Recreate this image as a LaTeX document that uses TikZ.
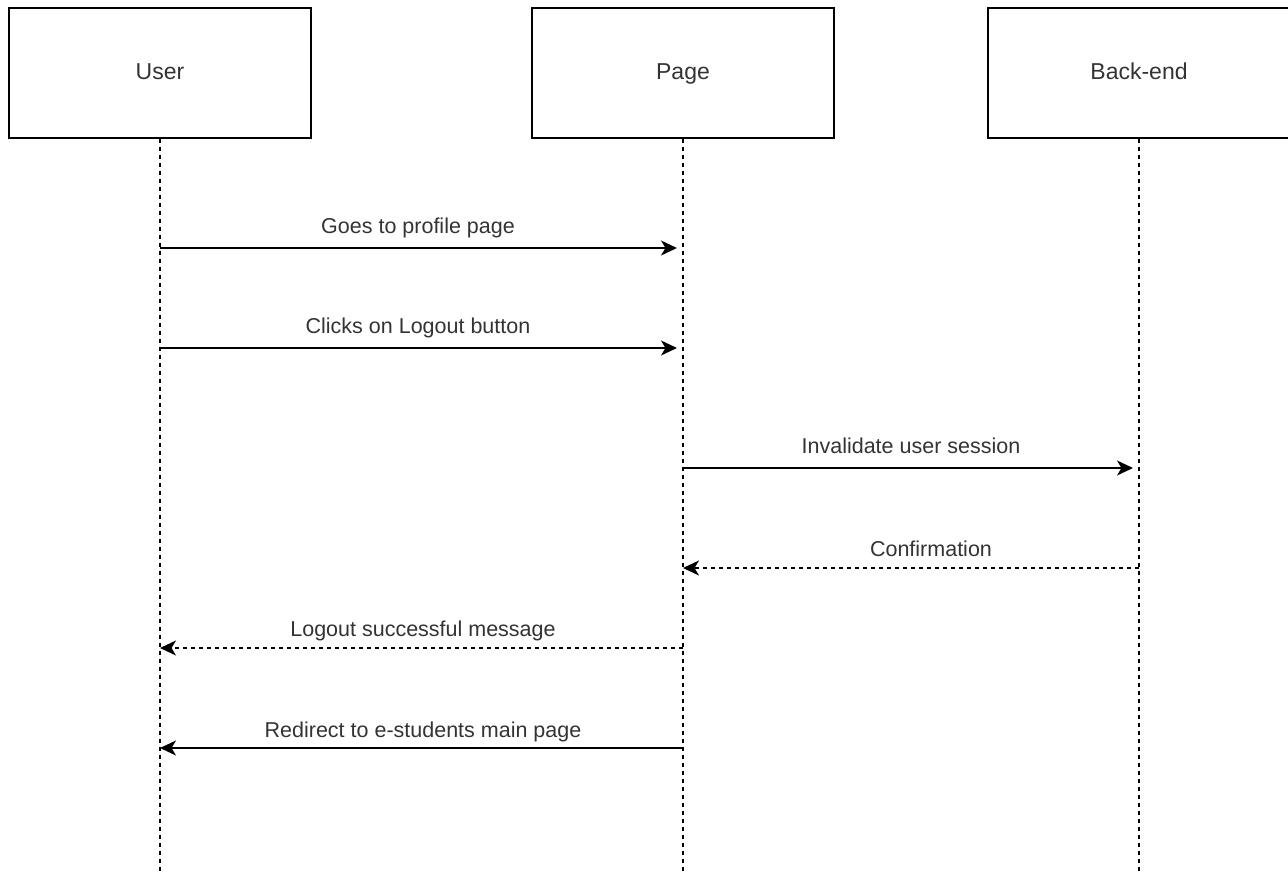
\documentclass[tikz,border=0pt]{standalone}
\usepackage{fontspec}
\setmainfont{Liberation Sans}
\usetikzlibrary{arrows.meta}
\begin{document}
\begin{tikzpicture}[x=1pt,y=-1pt,
  actor/.style={draw=black, line width=1.4pt, minimum width=302pt, minimum height=130pt,
    inner sep=0pt, font=\fontsize{23}{26}\selectfont, text height=16.5pt, text depth=3.5pt,
    text=black!80},
  lifeline/.style={draw=black, line width=1.1pt, dash pattern=on 4pt off 4pt},
  msg/.style={draw=black, line width=1.6pt, -{Stealth[length=16pt,width=15pt,inset=4.5pt]}},
  reply/.style={msg, dash pattern=on 4pt off 4pt},
  lbl/.style={font=\fontsize{21.5}{24}\selectfont, text=black!80, inner sep=0pt, anchor=base}]
\useasboundingbox (0,0) rectangle (1288,873);
% participant boxes (the last one runs past the right edge)
\begin{scope}
\clip (0,0) rectangle (1288,873);
\node[actor] (user) at (160,73) {User};
\node[actor] (page) at (683,73) {Page};
\node[actor] (back) at (1139,73) {Back-end};
\end{scope}
\coordinate (userEnd) at (160,873);
\coordinate (pageEnd) at (683,873);
\coordinate (backEnd) at (1139,873);
\draw[lifeline] (user.south) -- (userEnd);
\draw[lifeline] (page.south) -- (pageEnd);
\draw[lifeline] (back.south) -- (backEnd);
% message anchors on the lifelines
\coordinate (u1) at (160,248); \coordinate (p1) at (683,248);
\coordinate (u2) at (160,348); \coordinate (p2) at (683,348);
\coordinate (p3) at (683,468); \coordinate (b3) at (1139,468);
\coordinate (p4) at (683,568); \coordinate (b4) at (1139,568);
\coordinate (u5) at (160,648); \coordinate (p5) at (683,648);
\coordinate (u6) at (160,748); \coordinate (p6) at (683,748);
\draw[msg, shorten >=6pt] (u1) -- (p1);
\draw[msg, shorten >=6pt] (u2) -- (p2);
\draw[msg, shorten >=6pt] (p3) -- (b3);
\draw[reply] (b4) -- (p4);
\draw[reply] (p5) -- (u5);
\draw[msg] (p6) -- (u6);
% message labels
\node[lbl] (t1) at (418,233) {Goes to profile page};
\node[lbl] (t2) at (418,333) {Clicks on Logout button};
\node[lbl] (t3) at (911,453) {Invalidate user session};
\node[lbl] (t4) at (931,556) {Confirmation};
\node[lbl] (t5) at (423,636) {Logout successful message};
\node[lbl] (t6) at (423,737) {Redirect to e-students main page};
\end{tikzpicture}
\end{document}
